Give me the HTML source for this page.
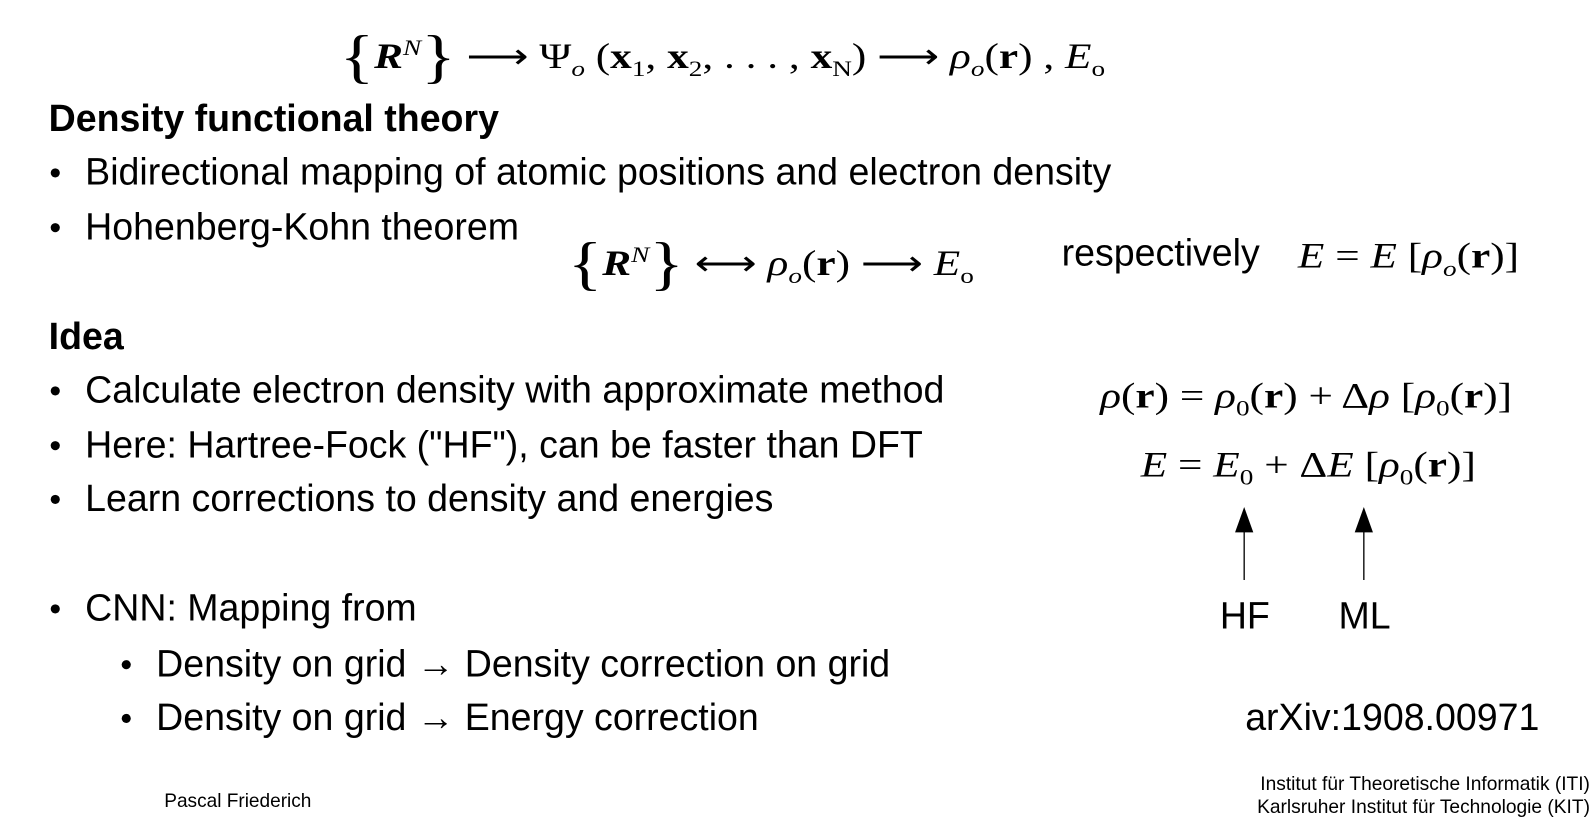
<!DOCTYPE html>
<html><head><meta charset="utf-8"><style>
html,body{margin:0;padding:0;background:#fff;width:1590px;height:820px;overflow:hidden}
#w{position:absolute;left:0;top:0;width:1568px;height:809px;transform:scale(1.014);transform-origin:0 0}
.t{position:absolute;white-space:nowrap;font-family:"Liberation Sans",sans-serif;font-size:37px;color:#000;line-height:1}
.m{position:absolute;white-space:nowrap;font-family:"Liberation Serif",serif;font-size:35px;color:#000;line-height:1;transform:scaleX(1.22);transform-origin:0 0}
.b{font-weight:bold}
i{font-style:italic}
.br{font-size:58px;vertical-align:-8px;font-weight:normal}
sub,sup{font-size:22px;line-height:0}
.dot{position:absolute;width:9px;height:9px;border-radius:50%;background:#000}
</style></head><body><div id="w">
<div class="m" style="left:335px;top:27px"><span class="br">{</span><b><i>R</i></b><sup><i>N</i></sup><span class="br">}</span> ⟶ Ψ<sub><i>o</i></sub> (<b>x</b><sub>1</sub>, <b>x</b><sub>2</sub>, . . . , <b>x</b><sub>N</sub>) ⟶ <i>ρ</i><sub><i>o</i></sub>(<b>r</b>) , <i>E</i><sub>o</sub></div>

<div class="t b" style="left:48px;top:98px">Density functional theory</div>
<div class="dot" style="left:50px;top:166px"></div>
<div class="t" style="left:84px;top:151px">Bidirectional mapping of atomic positions and electron density</div>
<div class="dot" style="left:50px;top:220px"></div>
<div class="t" style="left:84px;top:205px">Hohenberg-Kohn theorem</div>
<div class="m" style="left:560px;top:231px"><span class="br">{</span><b><i>R</i></b><sup><i>N</i></sup><span class="br">}</span> ⟷ <i>ρ</i><sub><i>o</i></sub>(<b>r</b>) ⟶ <i>E</i><sub>o</sub></div>
<div class="t" style="left:1047px;top:231px">respectively</div>
<div class="m" style="left:1280px;top:235px"><i>E</i> = <i>E</i> [<i>ρ</i><sub><i>o</i></sub>(<b>r</b>)]</div>

<div class="t b" style="left:48px;top:313px">Idea</div>
<div class="dot" style="left:50px;top:381px"></div>
<div class="t" style="left:84px;top:366px">Calculate electron density with approximate method</div>
<div class="dot" style="left:50px;top:435px"></div>
<div class="t" style="left:84px;top:420px">Here: Hartree-Fock ("HF"), can be faster than DFT</div>
<div class="dot" style="left:50px;top:488px"></div>
<div class="t" style="left:84px;top:473px">Learn corrections to density and energies</div>
<div class="dot" style="left:50px;top:596px"></div>
<div class="t" style="left:84px;top:581px">CNN: Mapping from</div>
<div class="dot" style="left:120px;top:651px"></div>
<div class="t" style="left:154px;top:636px">Density on grid → Density correction on grid</div>
<div class="dot" style="left:120px;top:704px"></div>
<div class="t" style="left:154px;top:689px">Density on grid → Energy correction</div>

<div class="m" style="left:1085px;top:373px"><i>ρ</i>(<b>r</b>) = <i>ρ</i><sub>0</sub>(<b>r</b>) + Δ<i>ρ</i> [<i>ρ</i><sub>0</sub>(<b>r</b>)]</div>
<div class="m" style="left:1125px;top:441px"><i>E</i> = <i>E</i><sub>0</sub> + Δ<i>E</i> [<i>ρ</i><sub>0</sub>(<b>r</b>)]</div>
<svg style="position:absolute;left:0;top:0" width="1568" height="809">
<polygon points="1227,500 1218,525 1236,525" fill="#000"/><line x1="1227" y1="520" x2="1227" y2="572" stroke="#000" stroke-width="1.3"/>
<polygon points="1345,500 1336,525 1354,525" fill="#000"/><line x1="1345" y1="520" x2="1345" y2="572" stroke="#000" stroke-width="1.3"/>
</svg>
<div class="t" style="left:1203px;top:589px">HF</div>
<div class="t" style="left:1320px;top:589px">ML</div>
<div class="t" style="left:1228px;top:689px">arXiv:1908.00971</div>
<div class="t" style="left:162px;top:781px;font-size:18.8px">Pascal Friederich</div>
<div class="t" style="right:0;top:762px;font-size:18.9px;text-align:right;line-height:23px">Institut für Theoretische Informatik (ITI)<br>Karlsruher Institut für Technologie (KIT)</div>
</div></body></html>
